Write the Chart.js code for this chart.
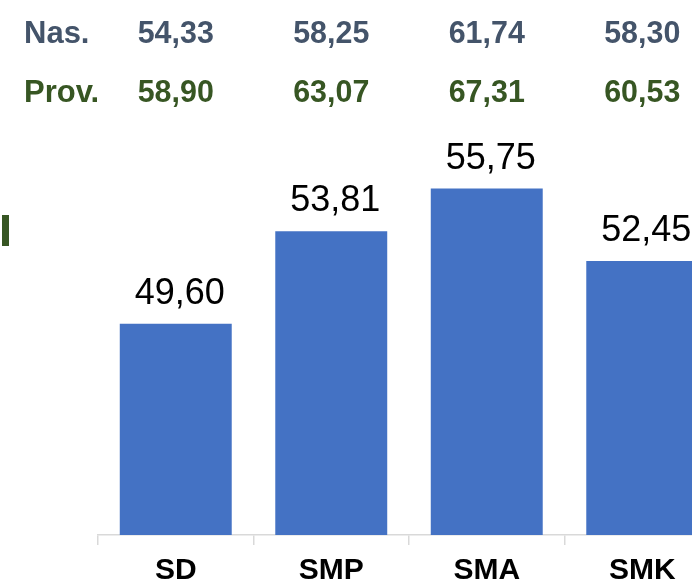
<!DOCTYPE html>
<html>
<head>
<meta charset="utf-8">
<script src="https://cdn.jsdelivr.net/npm/chart.js@4.4.1/dist/chart.umd.min.js"></script>
<style>
    html, body { margin: 0; padding: 0; background: #fff; overflow: hidden; }
    #wrap { position: relative; width: 692px; height: 586px; overflow: hidden; }
    #chart_wrap { position: absolute; left: 0; top: 0; width: 740px; height: 600px; }
</style>
</head>
<body>
<div id="wrap">
    <div id="chart_wrap"><canvas id="score_chart"></canvas></div>
</div>
<script>
// school levels and average scores
var categories = ['SD', 'SMP', 'SMA', 'SMK'];
var school_values = [49.60, 53.81, 55.75, 52.45];
var nas_values = [54.33, 58.25, 61.74, 58.30];
var prov_values = [58.90, 63.07, 67.31, 60.53];
var row_labels = ['Nas.', 'Prov.'];

function fmt(v) {
    return v.toFixed(2).replace('.', ',');
}

// draws the two comparison rows on top and the bar value labels
var labelPlugin = {
    id: 'labels',
    afterDatasetsDraw: function (chart) {
        var ctx = chart.ctx;
        var x = chart.scales.x;
        var y = chart.scales.y;
        ctx.save();
        ctx.textBaseline = 'alphabetic';

        // header rows
        var rows = [
            { label: row_labels[0], values: nas_values, color: '#44546a', base: 43 },
            { label: row_labels[1], values: prov_values, color: '#375623', base: 102 }
        ];
        rows.forEach(function (r) {
            ctx.fillStyle = r.color;
            ctx.font = 'bold 31px "Liberation Sans", Arial, sans-serif';
            ctx.textAlign = 'left';
            ctx.fillText(r.label, 24, r.base);
            ctx.textAlign = 'center';
            ctx.font = 'bold 32px "Liberation Sans", Arial, sans-serif';
            r.values.forEach(function (v, i) {
                var cx = x.getPixelForValue(i);
                ctx.save();
                ctx.translate(cx, r.base);
                ctx.scale(0.95, 1);
                ctx.fillText(fmt(v), 0, 0);
                ctx.restore();
            });
        });

        // clipped fragment on the left
        ctx.fillStyle = '#375623';
        ctx.fillRect(2, 215, 7, 31);

        // bar values
        ctx.textAlign = 'center';
        ctx.fillStyle = '#000';
        ctx.font = '36px "Liberation Sans", Arial, sans-serif';
        school_values.forEach(function (v, i) {
            ctx.fillText(fmt(v), x.getPixelForValue(i) + 4, y.getPixelForValue(v) - 20);
        });
        ctx.restore();
    }
};

new Chart(document.getElementById('score_chart').getContext('2d'), {
    type: 'bar',
    data: {
        labels: categories,
        datasets: [{
            data: school_values,
            backgroundColor: '#4472c4',
            borderWidth: 0,
            categoryPercentage: 0.72,
            barPercentage: 1.0
        }]
    },
    options: {
        responsive: true,
        maintainAspectRatio: false,
        animation: false,
        layout: { padding: { left: 98, right: 20, top: 95, bottom: 3 } },
        plugins: { legend: { display: false }, tooltip: { enabled: false } },
        scales: {
            y: { display: false, min: 40, max: 60 },
            x: {
                offset: true,
                grid: {
                    offset: true,
                    drawOnChartArea: false,
                    drawTicks: true,
                    tickLength: 10,
                    color: '#d9d9d9',
                    lineWidth: 1.5
                },
                border: { display: true, color: '#d9d9d9', width: 1.5 },
                ticks: {
                    color: '#000',
                    padding: 8,
                    font: { family: '"Liberation Sans", Arial, sans-serif', size: 30, weight: 'bold' }
                }
            }
        }
    },
    plugins: [labelPlugin]
});
</script>
</body>
</html>
